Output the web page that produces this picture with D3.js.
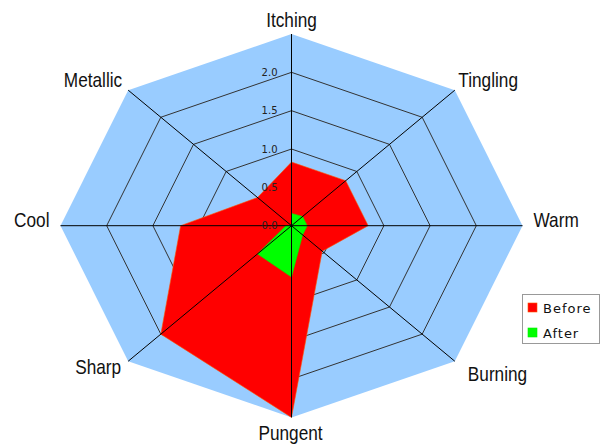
<!DOCTYPE html>
<html>
<head>
<meta charset="utf-8">
<script src="https://d3js.org/d3.v7.min.js"></script>
<style>
 body { margin: 0; background: #fff; }
 .axis-label { font-family: "Liberation Sans", Arial, sans-serif; font-size: 21px; fill: #111; }
 .tick-label { font-family: "DejaVu Sans", Verdana, sans-serif; font-size: 10px; fill: #222; }
 .legend text { font-family: "DejaVu Sans", Verdana, sans-serif; font-size: 13px; letter-spacing: 1px; fill: #111; }
</style>
</head>
<body>
<script>
// categories, clockwise from the top
var categories = ["Itching", "Tingling", "Warm", "Burning", "Pungent", "Sharp", "Cool", "Metallic"];
var before = [0.83, 0.83, 0.83, 0.47, 2.5, 2.0, 1.2, 0.52];
var after  = [0.16, 0.17, 0.17, 0.17, 0.67, 0.52, 0.06, 0.0];
var ticks  = [0.0, 0.5, 1.0, 1.5, 2.0];
var seriesNames = ["Before", "After"];

var w = 602, h = 447;
var cx = 291.5, cy = 225.7;
var maxVal = 2.5;

var svg = d3.select("body").append("svg")
            .attr("width", w)
            .attr("height", h);

// chart is a bit wider than tall
var rx = d3.scaleLinear().domain([0, maxVal]).range([0, 231]);
var ry = d3.scaleLinear().domain([0, maxVal]).range([0, 191.7]);
var angle = d3.scaleLinear().domain([0, categories.length]).range([-Math.PI / 2, 1.5 * Math.PI]);

function pt(v, i) {
 var a = angle(i);
 return [cx + rx(v) * Math.cos(a), cy + ry(v) * Math.sin(a)];
}
function ring(v) {
 return categories.map(function(d, i) { return pt(v, i); });
}
var line = d3.line().curve(d3.curveLinearClosed);

// background
svg.append("path")
   .attr("d", line(ring(maxVal)))
   .attr("fill", "#99ccff");

// rings
svg.selectAll(".ring")
   .data(ticks.filter(function(t) { return t > 0; }))
   .enter()
   .append("path")
   .attr("class", "ring")
   .attr("d", function(t) { return line(ring(t)); })
   .attr("fill", "none")
   .attr("stroke", "#333")
   .attr("stroke-width", 1);

// series
var series = [
 { name: seriesNames[0], values: before, color: "#ff0000", edge: "#ff5500" },
 { name: seriesNames[1], values: after,  color: "#00ff00", edge: "#00ee00" }
];
svg.selectAll(".area")
   .data(series)
   .enter()
   .append("path")
   .attr("class", "area")
   .attr("d", function(s) { return line(s.values.map(pt)); })
   .attr("fill", function(s) { return s.color; })
   .attr("stroke", function(s) { return s.edge; })
   .attr("stroke-width", 0.6);

// spokes
svg.selectAll(".spoke")
   .data(categories)
   .enter()
   .append("line")
   .attr("class", "spoke")
   .attr("x1", cx).attr("y1", cy)
   .attr("x2", function(d, i) { return pt(maxVal, i)[0]; })
   .attr("y2", function(d, i) { return pt(maxVal, i)[1]; })
   .attr("stroke", "#000")
   .attr("stroke-width", 1);

// tick labels along the top spoke
svg.selectAll(".tick-label")
   .data(ticks)
   .enter()
   .append("text")
   .attr("class", "tick-label")
   .attr("x", cx - 14)
   .attr("y", function(t) { return cy - ry(t); })
   .attr("dy", "0.35em")
   .attr("text-anchor", "end")
   .text(function(t) { return t.toFixed(1); });

// category labels: anchor + offset from the outer vertex (narrow face -> squeeze x)
var labelPlace = [
 ["middle", 0, -7.5],
 ["start", 3.5, -3],
 ["start", 11, 1],
 ["start", 13, 20],
 ["middle", -1, 23],
 ["end", -7, 13],
 ["end", -11, 1],
 ["end", -6, -3]
];
svg.selectAll(".axis-label")
   .data(categories)
   .enter()
   .append("text")
   .attr("class", "axis-label")
   .attr("transform", function(d, i) {
    var p = pt(maxVal, i);
    return "translate(" + (p[0] + labelPlace[i][1]) + "," + (p[1] + labelPlace[i][2]) + ") scale(0.82,1)";
   })
   .attr("text-anchor", function(d, i) { return labelPlace[i][0]; })
   .text(function(d) { return d; });

// legend
var legend = svg.append("g")
                .attr("class", "legend")
                .attr("transform", "translate(522,294)");
legend.append("rect")
      .attr("x", 0.5).attr("y", 0.5)
      .attr("width", 77).attr("height", 49)
      .attr("fill", "#fff")
      .attr("stroke", "#999");
var item = legend.selectAll(".item")
                 .data(series)
                 .enter()
                 .append("g")
                 .attr("class", "item")
                 .attr("transform", function(d, i) { return "translate(6," + (9 + i * 25) + ")"; });
item.append("rect")
    .attr("width", 9).attr("height", 9)
    .attr("fill", function(d) { return d.color; })
    .attr("stroke", function(d) { return d.edge; })
    .attr("stroke-width", 0.6);
item.append("text")
    .attr("x", 15)
    .attr("y", 9.5)
    .text(function(d) { return d.name; });
</script>
</body>
</html>
